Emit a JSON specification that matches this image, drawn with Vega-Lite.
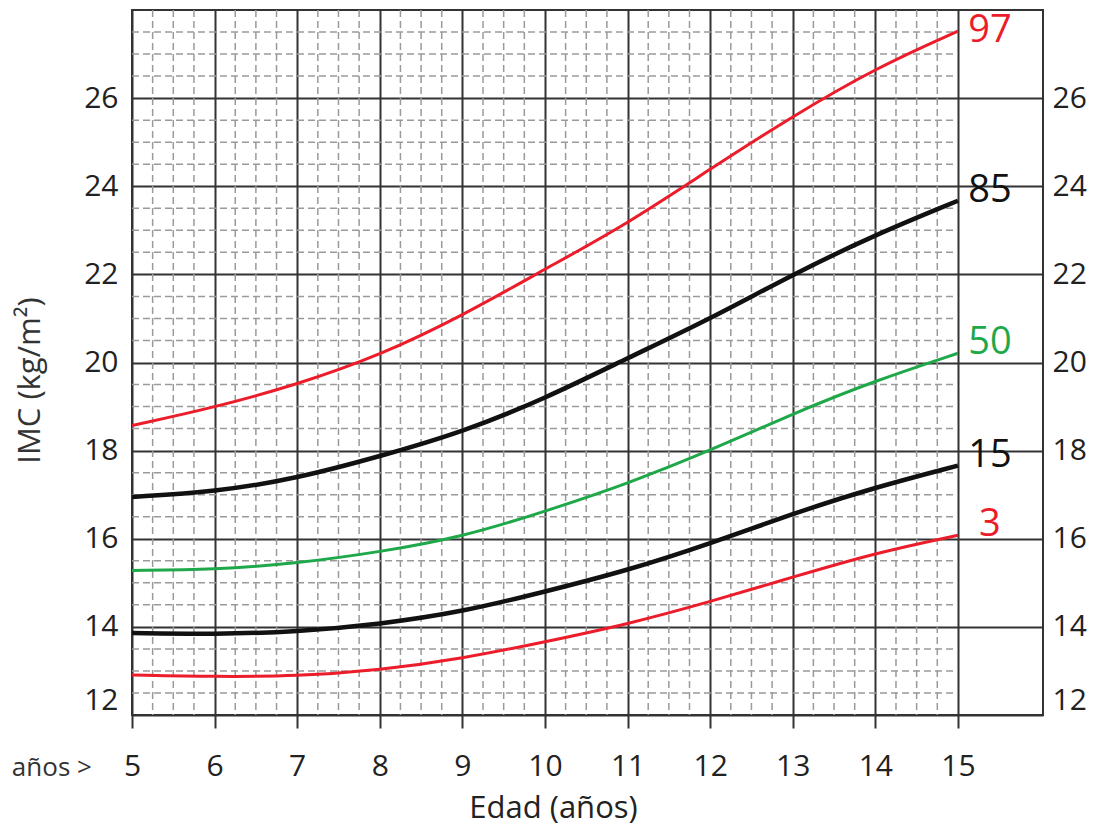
{
  "$schema": "https://vega.github.io/schema/vega-lite/v6.json",
  "width": 911,
  "height": 705,
  "autosize": {"type": "none"},
  "padding": {"left": 132, "top": 10, "right": 57, "bottom": 121},
  "background": "white",
  "config": {
    "view": {"stroke": "#333", "strokeWidth": 2},
    "font": "Open Sans",
    "axis": {
      "labelFont": "Open Sans",
      "labelFontSize": 30,
      "labelColor": "#222",
      "titleFont": "Open Sans",
      "titleFontWeight": "normal",
      "titleColor": "#222",
      "domain": false,
      "gridColor": "#333",
      "gridWidth": 2,
      "gridOpacity": 1
    }
  },
  "datasets": {
    "bmi": [
      {"p": "97", "age": 5, "imc": 18.57}, {"p": "97", "age": 6, "imc": 18.98}, {"p": "97", "age": 7, "imc": 19.5},
      {"p": "97", "age": 8, "imc": 20.16}, {"p": "97", "age": 9, "imc": 21.06}, {"p": "97", "age": 10, "imc": 22.12},
      {"p": "97", "age": 11, "imc": 23.15}, {"p": "97", "age": 12, "imc": 24.39}, {"p": "97", "age": 13, "imc": 25.59},
      {"p": "97", "age": 14, "imc": 26.68}, {"p": "97", "age": 15, "imc": 27.52},
      {"p": "85", "age": 5, "imc": 16.95}, {"p": "85", "age": 6, "imc": 17.06}, {"p": "85", "age": 7, "imc": 17.37},
      {"p": "85", "age": 8, "imc": 17.87}, {"p": "85", "age": 9, "imc": 18.42}, {"p": "85", "age": 10, "imc": 19.18},
      {"p": "85", "age": 11, "imc": 20.1}, {"p": "85", "age": 12, "imc": 20.99}, {"p": "85", "age": 13, "imc": 22.0},
      {"p": "85", "age": 14, "imc": 22.9}, {"p": "85", "age": 15, "imc": 23.67},
      {"p": "50", "age": 5, "imc": 15.28}, {"p": "50", "age": 6, "imc": 15.3}, {"p": "50", "age": 7, "imc": 15.44},
      {"p": "50", "age": 8, "imc": 15.7}, {"p": "50", "age": 9, "imc": 16.04}, {"p": "50", "age": 10, "imc": 16.62},
      {"p": "50", "age": 11, "imc": 17.25}, {"p": "50", "age": 12, "imc": 18.0}, {"p": "50", "age": 13, "imc": 18.84},
      {"p": "50", "age": 14, "imc": 19.59}, {"p": "50", "age": 15, "imc": 20.21},
      {"p": "15", "age": 5, "imc": 13.86}, {"p": "15", "age": 6, "imc": 13.83}, {"p": "15", "age": 7, "imc": 13.89},
      {"p": "15", "age": 8, "imc": 14.06}, {"p": "15", "age": 9, "imc": 14.34}, {"p": "15", "age": 10, "imc": 14.8},
      {"p": "15", "age": 11, "imc": 15.28}, {"p": "15", "age": 12, "imc": 15.89}, {"p": "15", "age": 13, "imc": 16.57},
      {"p": "15", "age": 14, "imc": 17.17}, {"p": "15", "age": 15, "imc": 17.66},
      {"p": "3", "age": 5, "imc": 12.91}, {"p": "3", "age": 6, "imc": 12.87}, {"p": "3", "age": 7, "imc": 12.88},
      {"p": "3", "age": 8, "imc": 13.02}, {"p": "3", "age": 9, "imc": 13.28}, {"p": "3", "age": 10, "imc": 13.66},
      {"p": "3", "age": 11, "imc": 14.06}, {"p": "3", "age": 12, "imc": 14.57}, {"p": "3", "age": 13, "imc": 15.13},
      {"p": "3", "age": 14, "imc": 15.68}, {"p": "3", "age": 15, "imc": 16.08}
    ],
    "minorX": [
      {"v": 5.25}, {"v": 5.5}, {"v": 5.75}, {"v": 6.25}, {"v": 6.5}, {"v": 6.75},
      {"v": 7.25}, {"v": 7.5}, {"v": 7.75}, {"v": 8.25}, {"v": 8.5}, {"v": 8.75},
      {"v": 9.25}, {"v": 9.5}, {"v": 9.75}, {"v": 10.25}, {"v": 10.5}, {"v": 10.75},
      {"v": 11.25}, {"v": 11.5}, {"v": 11.75}, {"v": 12.25}, {"v": 12.5}, {"v": 12.75},
      {"v": 13.25}, {"v": 13.5}, {"v": 13.75}, {"v": 14.25}, {"v": 14.5}, {"v": 14.75}
    ],
    "minorY": [
      {"v": 12.5}, {"v": 13}, {"v": 13.5}, {"v": 14.5}, {"v": 15}, {"v": 15.5},
      {"v": 16.5}, {"v": 17}, {"v": 17.5}, {"v": 18.5}, {"v": 19}, {"v": 19.5},
      {"v": 20.5}, {"v": 21}, {"v": 21.5}, {"v": 22.5}, {"v": 23}, {"v": 23.5},
      {"v": 24.5}, {"v": 25}, {"v": 25.5}, {"v": 26.5}, {"v": 27}, {"v": 27.5}
    ],
    "note": [
      {"t": "años >", "age": 4.03, "imc": 10.8}
    ]
  },
  "resolve": {"axis": {"y": "independent"}},
  "layer": [
    {
      "data": {"name": "minorX"},
      "mark": {"type": "rule", "stroke": "#9a9a9a", "strokeWidth": 1.5, "strokeDash": [7, 4]},
      "encoding": {
        "x": {
          "field": "v", "type": "quantitative",
          "scale": {"domain": [5, 16.03], "nice": false, "zero": false},
          "axis": {
            "values": [5, 6, 7, 8, 9, 10, 11, 12, 13, 14, 15],
            "format": "d",
            "grid": true,
            "ticks": true, "tickSize": 13, "tickColor": "#333", "tickWidth": 2,
            "labelFlush": false,
            "labelPadding": 38,
            "labelBaseline": "middle",
            "title": "Edad (años)",
            "titleFontSize": 31,
            "titleX": 421,
            "titleY": 93,
            "titleAlign": "center",
            "titleBaseline": "middle"
          }
        }
      }
    },
    {
      "data": {"name": "minorY"},
      "mark": {"type": "rule", "stroke": "#9a9a9a", "strokeWidth": 1.5, "strokeDash": [7, 4]},
      "encoding": {
        "y": {
          "field": "v", "type": "quantitative",
          "scale": {"domain": [12, 28], "nice": false, "zero": false},
          "axis": {
            "orient": "left",
            "values": [12, 14, 16, 18, 20, 22, 24, 26],
            "ticks": false, "tickSize": 0,
            "labelPadding": 14,
            "labelFlush": true,
            "grid": true,
            "title": "IMC (kg/m²)",
            "titleFontSize": 31,
            "titleColor": "#333",
            "titleX": -102,
            "titleY": 370,
            "titleAngle": -90,
            "titleAlign": "center",
            "titleBaseline": "middle"
          }
        },
        "x": {"datum": 5},
        "x2": {"datum": 15}
      }
    },
    {
      "data": {"name": "bmi"},
      "mark": {"type": "line", "interpolate": "basis", "clip": true},
      "encoding": {
        "x": {"field": "age", "type": "quantitative"},
        "y": {
          "field": "imc", "type": "quantitative",
          "axis": {
            "orient": "right",
            "values": [12, 14, 16, 18, 20, 22, 24, 26],
            "ticks": false, "tickSize": 0,
            "labelPadding": 9,
            "labelFlush": true,
            "grid": false,
            "title": null
          }
        },
        "detail": {"field": "p"},
        "color": {
          "field": "p", "type": "nominal",
          "scale": {"domain": ["97", "85", "50", "15", "3"], "range": ["#ec1c2a", "#111111", "#1fa84a", "#111111", "#ec1c2a"]},
          "legend": null
        },
        "strokeWidth": {
          "condition": {"test": "datum.p == '85' || datum.p == '15'", "value": 4.5},
          "value": 3
        }
      }
    },
    {
      "data": {"name": "bmi"},
      "transform": [{"filter": "datum.age == 15 && datum.p != '97'"}],
      "mark": {"type": "text", "dx": 32, "dy": -10, "align": "center", "baseline": "middle", "fontSize": 38, "font": "Open Sans"},
      "encoding": {
        "x": {"field": "age", "type": "quantitative"},
        "y": {"field": "imc", "type": "quantitative", "axis": null},
        "text": {"field": "p"},
        "color": {"field": "p", "type": "nominal", "legend": null}
      }
    },
    {
      "data": {"name": "bmi"},
      "transform": [{"filter": "datum.age == 15 && datum.p == '97'"}],
      "mark": {"type": "text", "dx": 32, "dy": 0, "align": "center", "baseline": "middle", "fontSize": 38, "font": "Open Sans"},
      "encoding": {
        "x": {"field": "age", "type": "quantitative"},
        "y": {"field": "imc", "type": "quantitative", "axis": null},
        "text": {"field": "p"},
        "color": {"field": "p", "type": "nominal", "legend": null}
      }
    },
    {
      "data": {"name": "note"},
      "mark": {"type": "text", "fontSize": 26, "font": "Open Sans", "color": "#333", "align": "center", "baseline": "middle", "clip": false},
      "encoding": {
        "x": {"field": "age", "type": "quantitative"},
        "y": {"field": "imc", "type": "quantitative", "axis": null},
        "text": {"field": "t"}
      }
    }
  ]
}
